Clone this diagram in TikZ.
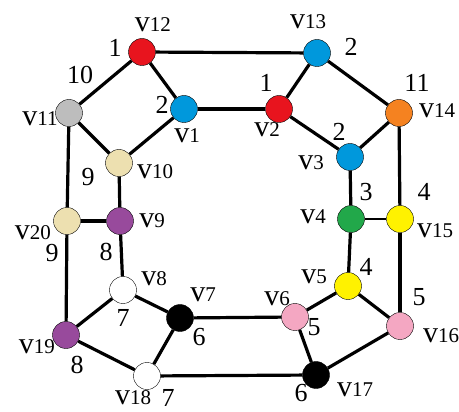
\documentclass[tikz,border=0pt]{standalone}
\usepackage{fontspec}
\setmainfont{Liberation Serif}
\usetikzlibrary{positioning}
\definecolor{VRed}{HTML}{E8141E}
\definecolor{VBlue}{HTML}{0098DC}
\definecolor{VGray}{HTML}{BDBDBD}
\definecolor{VBeige}{HTML}{EDE0B0}
\definecolor{VPurple}{HTML}{984A9C}
\definecolor{VOrange}{HTML}{F58220}
\definecolor{VGreen}{HTML}{22A84A}
\definecolor{VYellow}{HTML}{FFF200}
\definecolor{VPink}{HTML}{F4A7C2}
\newcommand{\vname}[1]{{\fontsize{30}{30}\selectfont v}{\fontsize{21}{21}\selectfont #1}}

\begin{document}
\begin{tikzpicture}[
  x=1pt, y=-1pt,
  vert/.style={circle, draw=black, thin, minimum size=27pt, inner sep=0pt},
  num/.style={font=\fontsize{26}{26}\selectfont, inner sep=0pt},
  vtxt/.style={inner sep=0pt},
  edge/.style={line width=3.2pt, black},
  thinedge/.style={line width=1.4pt, black}
]
  \useasboundingbox (0,0) rectangle (459,412);

  % Vertices, top ring
  \node[vert, fill=VRed]    (v12) at (142,52)  {};
  \node[vert, fill=VBlue]   (v13) at (317,53)  {};
  \node[vert, fill=VBlue]   (v1)  at (184,109) {};
  \node[vert, fill=VRed]    (v2)  at (279,109) {};
  \node[vert, fill=VGray]   (v11) at (69,113)  {};
  \node[vert, fill=VOrange] (v14) at (399,113) {};
  \node[vert, fill=VBeige]  (v10) at (119,163) {};
  \node[vert, fill=VBlue]   (v3)  at (350,157) {};

  % Vertices, middle
  \node[vert, fill=VBeige]  (v20) at (67,221)  {};
  \node[vert, fill=VPurple] (v9)  at (120,221) {};
  \node[vert, fill=VGreen]  (v4)  at (351,219) {};
  \node[vert, fill=VYellow] (v15) at (400,219) {};

  % Vertices, bottom ring
  \node[vert, fill=white]   (v8)  at (123,290) {};
  \node[vert, fill=black]   (v7)  at (180,318) {};
  \node[vert, fill=VYellow] (v5)  at (348,286) {};
  \node[vert, fill=VPink]   (v6)  at (295,317) {};
  \node[vert, fill=VPink]   (v16) at (400,326) {};
  \node[vert, fill=VPurple] (v19) at (66,335)  {};
  \node[vert, fill=white]   (v18) at (147,376) {};
  \node[vert, fill=black]   (v17) at (316,375) {};

  % Edges
  \draw[edge] (v12) -- (v13);
  \draw[edge] (v1) -- (v2);
  \draw[edge] (v12) -- (v11);
  \draw[edge] (v12) -- (v1);
  \draw[edge] (v11) -- (v10);
  \draw[edge] (v1) -- (v10);
  \draw[edge] (v11) -- (v20);
  \draw[edge] (v10) -- (v9);
  \draw[edge] (v20) -- (v9);
  \draw[edge] (v13) -- (v2);
  \draw[edge] (v13) -- (v14);
  \draw[edge] (v2) -- (v3);
  \draw[edge] (v14) -- (v3);
  \draw[edge] (v3) -- (v4);
  \draw[edge] (v14) -- (v15);
  \draw[thinedge] (v4) -- (v15);
  \draw[edge] (v9) -- (v8);
  \draw[edge] (v20) -- (v19);
  \draw[edge] (v8) -- (v7);
  \draw[edge] (v8) -- (v19);
  \draw[edge] (v19) -- (v18);
  \draw[edge] (v7) -- (v18);
  \draw[edge] (v7) -- (v6);
  \draw[edge] (v18) -- (v17);
  \draw[edge] (v4) -- (v5);
  \draw[edge] (v15) -- (v16);
  \draw[edge] (v5) -- (v6);
  \draw[edge] (v5) -- (v16);
  \draw[edge] (v6) -- (v17);
  \draw[edge] (v16) -- (v17);

  % Vertex names
  \node[vtxt] (t12) at (153,25)  {\vname{12}};
  \node[vtxt] (t13) at (308,22)  {\vname{13}};
  \node[vtxt] (t1)  at (187,136) {\vname{1}};
  \node[vtxt] (t2)  at (267,130) {\vname{2}};
  \node[vtxt] (t11) at (40,119)  {\vname{11}};
  \node[vtxt] (t14) at (437,111) {\vname{14}};
  \node[vtxt] (t10) at (155,172) {\vname{10}};
  \node[vtxt] (t3)  at (311,163) {\vname{3}};
  \node[vtxt] (t20) at (33,233)  {\vname{20}};
  \node[vtxt] (t9)  at (152,221) {\vname{9}};
  \node[vtxt] (t4)  at (313,217) {\vname{4}};
  \node[vtxt] (t15) at (435,231) {\vname{15}};
  \node[vtxt] (t8)  at (154,279) {\vname{8}};
  \node[vtxt] (t7)  at (203,295) {\vname{7}};
  \node[vtxt] (t5)  at (314,277) {\vname{5}};
  \node[vtxt] (t6)  at (277,299) {\vname{6}};
  \node[vtxt] (t16) at (441,336) {\vname{16}};
  \node[vtxt] (t19) at (37,347)  {\vname{19}};
  \node[vtxt] (t18) at (133,398) {\vname{18}};
  \node[vtxt] (t17) at (355,390) {\vname{17}};

  % Colour numbers
  \node[num] (n12) at (115,48)  {1};
  \node[num] (n11) at (80,75)   {10};
  \node[num] (n1)  at (162,105) {2};
  \node[num] (n10) at (88,177)  {9};
  \node[num] (n13) at (351,47)  {2};
  \node[num] (n2)  at (266,83)  {1};
  \node[num] (n14) at (417,83)  {11};
  \node[num] (n3)  at (339,132) {2};
  \node[num] (n4)  at (366,192) {3};
  \node[num] (n15) at (424,192) {4};
  \node[num] (n20) at (52,253)  {9};
  \node[num] (n9)  at (106,252) {8};
  \node[num] (n8)  at (123,318) {7};
  \node[num] (n7)  at (199,337) {6};
  \node[num] (n19) at (77,365)  {8};
  \node[num] (n18) at (168,398) {7};
  \node[num] (n5)  at (366,267) {4};
  \node[num] (n6)  at (314,327) {5};
  \node[num] (n16) at (419,297) {5};
  \node[num] (n17) at (301,393) {6};
\end{tikzpicture}
\end{document}
